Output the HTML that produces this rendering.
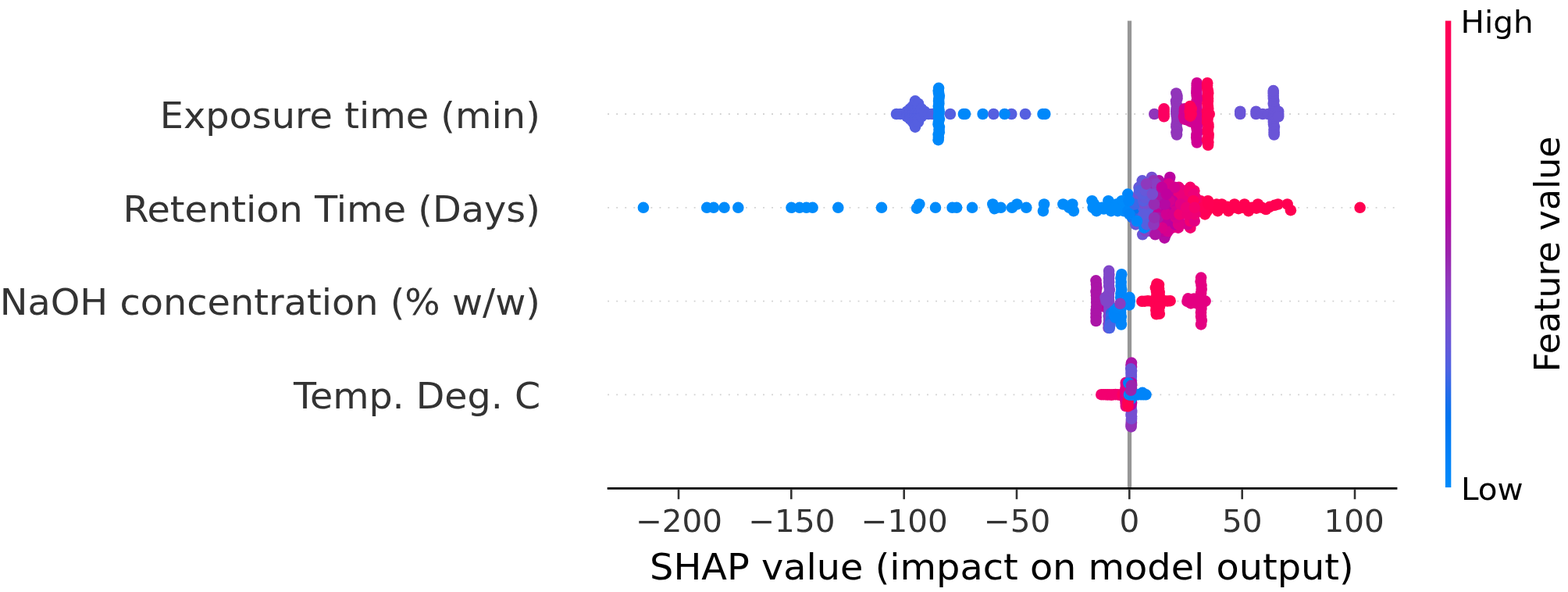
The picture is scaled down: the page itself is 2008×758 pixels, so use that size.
<!DOCTYPE html>
<html lang="en"><head><meta charset="utf-8"><title>SHAP summary plot</title>
<style>html,body{margin:0;padding:0;background:#fff}body{width:2008px;height:758px;overflow:hidden}svg{display:block}</style>
</head><body>
<svg width="2008" height="758" viewBox="0 0 2008 758">
<defs><linearGradient id="cb" x1="0" y1="1" x2="0" y2="0">
<stop offset="0.00" stop-color="#008bfb"/>
<stop offset="0.05" stop-color="#0084f9"/>
<stop offset="0.10" stop-color="#007cf5"/>
<stop offset="0.15" stop-color="#0074f0"/>
<stop offset="0.20" stop-color="#236cea"/>
<stop offset="0.25" stop-color="#4b63e3"/>
<stop offset="0.30" stop-color="#6359da"/>
<stop offset="0.35" stop-color="#754fd1"/>
<stop offset="0.40" stop-color="#8443c6"/>
<stop offset="0.45" stop-color="#9135ba"/>
<stop offset="0.50" stop-color="#9b23ad"/>
<stop offset="0.55" stop-color="#ab15a7"/>
<stop offset="0.60" stop-color="#bb00a0"/>
<stop offset="0.65" stop-color="#c80098"/>
<stop offset="0.70" stop-color="#d5008f"/>
<stop offset="0.75" stop-color="#e00086"/>
<stop offset="0.80" stop-color="#e9007c"/>
<stop offset="0.85" stop-color="#f20072"/>
<stop offset="0.90" stop-color="#f90067"/>
<stop offset="0.95" stop-color="#fe005c"/>
<stop offset="1.00" stop-color="#ff0051"/>
</linearGradient></defs>
<rect width="2008" height="758" fill="#fff"/>
<rect x="1443.9" y="26.6" width="5.2" height="598.8" fill="#979797"/>
<line x1="778.2" y1="146.0" x2="1789" y2="146.0" stroke="#d2d2d2" stroke-width="1.85" stroke-dasharray="1.85 9.2"/>
<line x1="778.2" y1="265.8" x2="1789" y2="265.8" stroke="#d2d2d2" stroke-width="1.85" stroke-dasharray="1.85 9.2"/>
<line x1="778.2" y1="385.6" x2="1789" y2="385.6" stroke="#d2d2d2" stroke-width="1.85" stroke-dasharray="1.85 9.2"/>
<line x1="778.2" y1="505.4" x2="1789" y2="505.4" stroke="#d2d2d2" stroke-width="1.85" stroke-dasharray="1.85 9.2"/>
<g>
<circle cx="1148.0" cy="146.0" r="7.3" fill="#555fe0"/>
<circle cx="1153.0" cy="146.0" r="7.3" fill="#555fe0"/>
<circle cx="1158.0" cy="146.0" r="7.3" fill="#555fe0"/>
<circle cx="1161.5" cy="146.0" r="7.3" fill="#555fe0"/>
<circle cx="1161.5" cy="142.7" r="7.3" fill="#555fe0"/>
<circle cx="1161.5" cy="149.3" r="7.3" fill="#555fe0"/>
<circle cx="1165.5" cy="146.0" r="7.3" fill="#555fe0"/>
<circle cx="1165.5" cy="142.7" r="7.3" fill="#555fe0"/>
<circle cx="1165.5" cy="149.3" r="7.3" fill="#555fe0"/>
<circle cx="1165.5" cy="139.4" r="7.3" fill="#555fe0"/>
<circle cx="1165.5" cy="152.6" r="7.3" fill="#555fe0"/>
<circle cx="1169.0" cy="146.0" r="7.3" fill="#555fe0"/>
<circle cx="1169.0" cy="142.7" r="7.3" fill="#555fe0"/>
<circle cx="1169.0" cy="149.3" r="7.3" fill="#555fe0"/>
<circle cx="1169.0" cy="139.4" r="7.3" fill="#555fe0"/>
<circle cx="1169.0" cy="152.6" r="7.3" fill="#555fe0"/>
<circle cx="1169.0" cy="136.0" r="7.3" fill="#555fe0"/>
<circle cx="1169.0" cy="156.0" r="7.3" fill="#555fe0"/>
<circle cx="1172.0" cy="146.0" r="7.3" fill="#555fe0"/>
<circle cx="1172.0" cy="142.7" r="7.3" fill="#555fe0"/>
<circle cx="1172.0" cy="149.3" r="7.3" fill="#555fe0"/>
<circle cx="1172.0" cy="139.4" r="7.3" fill="#555fe0"/>
<circle cx="1172.0" cy="152.6" r="7.3" fill="#555fe0"/>
<circle cx="1172.0" cy="136.0" r="7.3" fill="#555fe0"/>
<circle cx="1172.0" cy="156.0" r="7.3" fill="#555fe0"/>
<circle cx="1172.0" cy="132.7" r="7.3" fill="#555fe0"/>
<circle cx="1172.0" cy="159.3" r="7.3" fill="#555fe0"/>
<circle cx="1172.0" cy="129.4" r="7.3" fill="#555fe0"/>
<circle cx="1172.0" cy="162.6" r="7.3" fill="#555fe0"/>
<circle cx="1176.0" cy="146.0" r="7.3" fill="#555fe0"/>
<circle cx="1176.0" cy="142.7" r="7.3" fill="#555fe0"/>
<circle cx="1176.0" cy="149.3" r="7.3" fill="#555fe0"/>
<circle cx="1176.0" cy="139.4" r="7.3" fill="#555fe0"/>
<circle cx="1176.0" cy="152.6" r="7.3" fill="#555fe0"/>
<circle cx="1176.0" cy="136.0" r="7.3" fill="#555fe0"/>
<circle cx="1176.0" cy="156.0" r="7.3" fill="#555fe0"/>
<circle cx="1176.0" cy="132.7" r="7.3" fill="#555fe0"/>
<circle cx="1180.0" cy="146.0" r="7.3" fill="#555fe0"/>
<circle cx="1180.0" cy="142.7" r="7.3" fill="#555fe0"/>
<circle cx="1180.0" cy="149.3" r="7.3" fill="#555fe0"/>
<circle cx="1180.0" cy="139.4" r="7.3" fill="#555fe0"/>
<circle cx="1184.0" cy="146.0" r="7.3" fill="#555fe0"/>
<circle cx="1184.0" cy="142.7" r="7.3" fill="#555fe0"/>
<circle cx="1189.0" cy="146.0" r="7.3" fill="#555fe0"/>
<circle cx="1194.0" cy="146.0" r="7.3" fill="#555fe0"/>
<circle cx="1202.4" cy="146.0" r="7.3" fill="#0088fa"/>
<circle cx="1202.7" cy="142.7" r="7.3" fill="#0088fa"/>
<circle cx="1202.0" cy="149.3" r="7.3" fill="#0088fa"/>
<circle cx="1202.1" cy="139.4" r="7.3" fill="#0088fa"/>
<circle cx="1202.9" cy="152.6" r="7.3" fill="#0088fa"/>
<circle cx="1201.8" cy="136.0" r="7.3" fill="#0088fa"/>
<circle cx="1201.9" cy="156.0" r="7.3" fill="#0088fa"/>
<circle cx="1202.4" cy="132.7" r="7.3" fill="#0088fa"/>
<circle cx="1201.6" cy="159.3" r="7.3" fill="#0088fa"/>
<circle cx="1202.1" cy="129.4" r="7.3" fill="#0088fa"/>
<circle cx="1202.9" cy="162.6" r="7.3" fill="#0088fa"/>
<circle cx="1202.3" cy="126.1" r="7.3" fill="#0088fa"/>
<circle cx="1202.5" cy="165.9" r="7.3" fill="#0088fa"/>
<circle cx="1202.9" cy="122.8" r="7.3" fill="#0088fa"/>
<circle cx="1202.8" cy="169.2" r="7.3" fill="#0088fa"/>
<circle cx="1202.1" cy="119.5" r="7.3" fill="#0088fa"/>
<circle cx="1201.7" cy="172.5" r="7.3" fill="#0088fa"/>
<circle cx="1201.7" cy="116.1" r="7.3" fill="#0088fa"/>
<circle cx="1201.9" cy="175.9" r="7.3" fill="#0088fa"/>
<circle cx="1202.1" cy="112.8" r="7.3" fill="#0088fa"/>
<circle cx="1201.6" cy="179.2" r="7.3" fill="#0088fa"/>
<circle cx="1216.9" cy="146.0" r="7.3" fill="#555fe0"/>
<circle cx="1233.9" cy="146.0" r="7.3" fill="#0088fa"/>
<circle cx="1236.0" cy="146.0" r="7.3" fill="#0088fa"/>
<circle cx="1258.6" cy="146.0" r="7.3" fill="#0088fa"/>
<circle cx="1272.4" cy="146.0" r="7.3" fill="#555fe0"/>
<circle cx="1295.3" cy="146.0" r="7.3" fill="#555fe0"/>
<circle cx="1286.5" cy="146.0" r="7.3" fill="#0088fa"/>
<circle cx="1313.0" cy="146.0" r="7.3" fill="#555fe0"/>
<circle cx="1335.5" cy="146.0" r="7.3" fill="#0088fa"/>
<circle cx="1338.3" cy="146.0" r="7.3" fill="#0088fa"/>
<circle cx="1478.3" cy="146.0" r="7.3" fill="#9135ba"/>
<circle cx="1490.6" cy="146.0" r="7.3" fill="#fc0061"/>
<circle cx="1490.6" cy="142.7" r="7.3" fill="#fc0061"/>
<circle cx="1490.6" cy="149.3" r="7.3" fill="#fc0061"/>
<circle cx="1490.6" cy="139.4" r="7.3" fill="#fc0061"/>
<circle cx="1506.4" cy="146.0" r="7.3" fill="#9135ba"/>
<circle cx="1506.3" cy="142.7" r="7.3" fill="#9135ba"/>
<circle cx="1506.9" cy="149.3" r="7.3" fill="#9135ba"/>
<circle cx="1506.5" cy="139.4" r="7.3" fill="#9135ba"/>
<circle cx="1507.3" cy="152.6" r="7.3" fill="#9135ba"/>
<circle cx="1507.4" cy="136.0" r="7.3" fill="#9135ba"/>
<circle cx="1507.3" cy="156.0" r="7.3" fill="#9135ba"/>
<circle cx="1506.4" cy="132.7" r="7.3" fill="#9135ba"/>
<circle cx="1506.6" cy="159.3" r="7.3" fill="#9135ba"/>
<circle cx="1506.0" cy="129.4" r="7.3" fill="#9135ba"/>
<circle cx="1506.4" cy="162.6" r="7.3" fill="#9135ba"/>
<circle cx="1507.5" cy="126.1" r="7.3" fill="#9135ba"/>
<circle cx="1507.5" cy="165.9" r="7.3" fill="#9135ba"/>
<circle cx="1507.5" cy="122.8" r="7.3" fill="#9135ba"/>
<circle cx="1506.4" cy="169.2" r="7.3" fill="#9135ba"/>
<circle cx="1506.3" cy="119.5" r="7.3" fill="#9135ba"/>
<circle cx="1507.0" cy="172.5" r="7.3" fill="#9135ba"/>
<circle cx="1516.9" cy="146.0" r="7.3" fill="#d00093"/>
<circle cx="1516.7" cy="142.7" r="7.3" fill="#d00093"/>
<circle cx="1516.0" cy="149.3" r="7.3" fill="#d00093"/>
<circle cx="1517.0" cy="139.4" r="7.3" fill="#d00093"/>
<circle cx="1516.8" cy="152.6" r="7.3" fill="#d00093"/>
<circle cx="1532.3" cy="146.0" r="7.3" fill="#d00093"/>
<circle cx="1532.5" cy="142.7" r="7.3" fill="#d00093"/>
<circle cx="1533.6" cy="149.3" r="7.3" fill="#d00093"/>
<circle cx="1532.6" cy="139.4" r="7.3" fill="#d00093"/>
<circle cx="1533.2" cy="152.6" r="7.3" fill="#d00093"/>
<circle cx="1532.2" cy="136.0" r="7.3" fill="#d00093"/>
<circle cx="1533.4" cy="156.0" r="7.3" fill="#d00093"/>
<circle cx="1532.2" cy="132.7" r="7.3" fill="#d00093"/>
<circle cx="1533.6" cy="159.3" r="7.3" fill="#d00093"/>
<circle cx="1532.6" cy="129.4" r="7.3" fill="#d00093"/>
<circle cx="1532.2" cy="162.6" r="7.3" fill="#d00093"/>
<circle cx="1533.6" cy="126.1" r="7.3" fill="#d00093"/>
<circle cx="1532.8" cy="165.9" r="7.3" fill="#d00093"/>
<circle cx="1532.7" cy="122.8" r="7.3" fill="#d00093"/>
<circle cx="1533.3" cy="169.2" r="7.3" fill="#d00093"/>
<circle cx="1532.4" cy="119.5" r="7.3" fill="#d00093"/>
<circle cx="1532.4" cy="172.5" r="7.3" fill="#d00093"/>
<circle cx="1532.4" cy="116.1" r="7.3" fill="#d00093"/>
<circle cx="1532.2" cy="175.9" r="7.3" fill="#d00093"/>
<circle cx="1532.6" cy="112.8" r="7.3" fill="#d00093"/>
<circle cx="1532.9" cy="179.2" r="7.3" fill="#d00093"/>
<circle cx="1532.7" cy="109.5" r="7.3" fill="#d00093"/>
<circle cx="1532.8" cy="182.5" r="7.3" fill="#d00093"/>
<circle cx="1532.8" cy="106.2" r="7.3" fill="#d00093"/>
<circle cx="1520.5" cy="153.6" r="7.3" fill="#d00093"/>
<circle cx="1524.5" cy="155.6" r="7.3" fill="#d00093"/>
<circle cx="1546.7" cy="146.0" r="7.3" fill="#ff0058"/>
<circle cx="1545.9" cy="142.7" r="7.3" fill="#ff0058"/>
<circle cx="1546.2" cy="149.3" r="7.3" fill="#ff0058"/>
<circle cx="1547.2" cy="139.4" r="7.3" fill="#ff0058"/>
<circle cx="1546.5" cy="152.6" r="7.3" fill="#ff0058"/>
<circle cx="1546.9" cy="136.0" r="7.3" fill="#ff0058"/>
<circle cx="1546.1" cy="156.0" r="7.3" fill="#ff0058"/>
<circle cx="1546.3" cy="132.7" r="7.3" fill="#ff0058"/>
<circle cx="1547.3" cy="159.3" r="7.3" fill="#ff0058"/>
<circle cx="1546.9" cy="129.4" r="7.3" fill="#ff0058"/>
<circle cx="1547.5" cy="162.6" r="7.3" fill="#ff0058"/>
<circle cx="1547.0" cy="126.1" r="7.3" fill="#ff0058"/>
<circle cx="1546.8" cy="165.9" r="7.3" fill="#ff0058"/>
<circle cx="1546.7" cy="122.8" r="7.3" fill="#ff0058"/>
<circle cx="1546.8" cy="169.2" r="7.3" fill="#ff0058"/>
<circle cx="1547.2" cy="119.5" r="7.3" fill="#ff0058"/>
<circle cx="1547.6" cy="172.5" r="7.3" fill="#ff0058"/>
<circle cx="1546.9" cy="116.1" r="7.3" fill="#ff0058"/>
<circle cx="1547.4" cy="175.9" r="7.3" fill="#ff0058"/>
<circle cx="1546.1" cy="112.8" r="7.3" fill="#ff0058"/>
<circle cx="1546.0" cy="179.2" r="7.3" fill="#ff0058"/>
<circle cx="1546.0" cy="109.5" r="7.3" fill="#ff0058"/>
<circle cx="1547.3" cy="182.5" r="7.3" fill="#ff0058"/>
<circle cx="1546.2" cy="106.2" r="7.3" fill="#ff0058"/>
<circle cx="1547.1" cy="185.8" r="7.3" fill="#ff0058"/>
<circle cx="1548.7" cy="146.0" r="7.3" fill="#ff0058"/>
<circle cx="1524.0" cy="136.0" r="7.3" fill="#ff005a"/>
<circle cx="1525.8" cy="139.4" r="7.3" fill="#ff005a"/>
<circle cx="1523.6" cy="142.7" r="7.3" fill="#ff005a"/>
<circle cx="1525.6" cy="146.0" r="7.3" fill="#ff005a"/>
<circle cx="1524.2" cy="148.7" r="7.3" fill="#ff005a"/>
<circle cx="1588.2" cy="146.0" r="7.3" fill="#6a55d7"/>
<circle cx="1588.2" cy="142.7" r="7.3" fill="#6a55d7"/>
<circle cx="1608.5" cy="146.0" r="7.3" fill="#6a55d7"/>
<circle cx="1608.5" cy="142.7" r="7.3" fill="#6a55d7"/>
<circle cx="1617.0" cy="146.0" r="7.3" fill="#6a55d7"/>
<circle cx="1624.0" cy="146.0" r="7.3" fill="#6a55d7"/>
<circle cx="1631.8" cy="146.0" r="7.3" fill="#6a55d7"/>
<circle cx="1631.5" cy="142.7" r="7.3" fill="#6a55d7"/>
<circle cx="1630.6" cy="149.3" r="7.3" fill="#6a55d7"/>
<circle cx="1631.6" cy="139.4" r="7.3" fill="#6a55d7"/>
<circle cx="1630.7" cy="152.6" r="7.3" fill="#6a55d7"/>
<circle cx="1631.9" cy="136.0" r="7.3" fill="#6a55d7"/>
<circle cx="1630.8" cy="156.0" r="7.3" fill="#6a55d7"/>
<circle cx="1630.7" cy="132.7" r="7.3" fill="#6a55d7"/>
<circle cx="1631.0" cy="159.3" r="7.3" fill="#6a55d7"/>
<circle cx="1631.3" cy="129.4" r="7.3" fill="#6a55d7"/>
<circle cx="1631.9" cy="162.6" r="7.3" fill="#6a55d7"/>
<circle cx="1630.8" cy="126.1" r="7.3" fill="#6a55d7"/>
<circle cx="1631.5" cy="165.9" r="7.3" fill="#6a55d7"/>
<circle cx="1630.7" cy="122.8" r="7.3" fill="#6a55d7"/>
<circle cx="1631.7" cy="169.2" r="7.3" fill="#6a55d7"/>
<circle cx="1630.7" cy="119.5" r="7.3" fill="#6a55d7"/>
<circle cx="1631.6" cy="172.5" r="7.3" fill="#6a55d7"/>
<circle cx="1630.7" cy="116.1" r="7.3" fill="#6a55d7"/>
<circle cx="1637.2" cy="146.0" r="7.3" fill="#6a55d7"/>
<circle cx="1637.2" cy="142.7" r="7.3" fill="#6a55d7"/>
<circle cx="1637.2" cy="149.3" r="7.3" fill="#6a55d7"/>
</g>
<g>
<circle cx="1485.2" cy="252.9" r="7.3" fill="#b901a1"/>
<circle cx="1475.5" cy="239.9" r="7.3" fill="#6e53d5"/>
<circle cx="1482.9" cy="283.0" r="7.3" fill="#972bb2"/>
<circle cx="1492.9" cy="300.3" r="7.3" fill="#ca0096"/>
<circle cx="1652.9" cy="269.2" r="7.3" fill="#ff0051"/>
<circle cx="1525.2" cy="278.7" r="7.3" fill="#f80068"/>
<circle cx="1509.1" cy="265.8" r="7.3" fill="#e60080"/>
<circle cx="1524.2" cy="239.9" r="7.3" fill="#f70069"/>
<circle cx="1477.0" cy="257.2" r="7.3" fill="#883ec2"/>
<circle cx="1537.5" cy="257.2" r="7.3" fill="#ff005a"/>
<circle cx="1519.5" cy="252.9" r="7.3" fill="#f00073"/>
<circle cx="1314.3" cy="265.8" r="7.3" fill="#008bfb"/>
<circle cx="1492.5" cy="287.4" r="7.3" fill="#c4009a"/>
<circle cx="1491.3" cy="304.6" r="7.3" fill="#b409a3"/>
<circle cx="1621.2" cy="268.0" r="7.3" fill="#ff0051"/>
<circle cx="1488.5" cy="296.0" r="7.3" fill="#be009d"/>
<circle cx="1444.7" cy="265.8" r="7.3" fill="#0086f9"/>
<circle cx="1506.6" cy="283.0" r="7.3" fill="#c3009b"/>
<circle cx="1431.4" cy="270.1" r="7.3" fill="#008bfb"/>
<circle cx="1501.2" cy="291.7" r="7.3" fill="#e30083"/>
<circle cx="1481.5" cy="287.4" r="7.3" fill="#a61ba9"/>
<circle cx="1417.0" cy="265.8" r="7.3" fill="#008bfb"/>
<circle cx="1177.3" cy="261.5" r="7.3" fill="#008bfb"/>
<circle cx="1514.1" cy="270.1" r="7.3" fill="#ed0077"/>
<circle cx="1469.4" cy="239.9" r="7.3" fill="#4a63e3"/>
<circle cx="1572.0" cy="264.9" r="7.3" fill="#ff0051"/>
<circle cx="1484.2" cy="231.3" r="7.3" fill="#b10ea4"/>
<circle cx="1506.7" cy="252.9" r="7.3" fill="#e00085"/>
<circle cx="1486.1" cy="265.8" r="7.3" fill="#c0009d"/>
<circle cx="1512.6" cy="252.9" r="7.3" fill="#e10085"/>
<circle cx="1462.5" cy="283.0" r="7.3" fill="#6b55d7"/>
<circle cx="1478.2" cy="265.8" r="7.3" fill="#9b23ad"/>
<circle cx="1535.9" cy="261.5" r="7.3" fill="#fe005d"/>
<circle cx="1598.9" cy="270.1" r="7.3" fill="#ff0051"/>
<circle cx="1073.3" cy="265.8" r="7.3" fill="#008bfb"/>
<circle cx="1545.8" cy="270.1" r="7.3" fill="#ff0054"/>
<circle cx="1493.4" cy="244.2" r="7.3" fill="#bc009f"/>
<circle cx="1481.8" cy="257.2" r="7.3" fill="#a31daa"/>
<circle cx="1530.5" cy="261.5" r="7.3" fill="#eb0079"/>
<circle cx="1462.8" cy="231.3" r="7.3" fill="#6558d9"/>
<circle cx="1404.2" cy="270.1" r="7.3" fill="#008bfb"/>
<circle cx="1508.8" cy="291.7" r="7.3" fill="#e30083"/>
<circle cx="1433.3" cy="264.9" r="7.3" fill="#008bfb"/>
<circle cx="1530.9" cy="252.9" r="7.3" fill="#f6006b"/>
<circle cx="1436.9" cy="265.8" r="7.3" fill="#008bfb"/>
<circle cx="1435.7" cy="261.5" r="7.3" fill="#008bfb"/>
<circle cx="1481.2" cy="270.1" r="7.3" fill="#9430b6"/>
<circle cx="1509.4" cy="278.7" r="7.3" fill="#e30082"/>
<circle cx="1741.6" cy="265.8" r="7.3" fill="#ff0051"/>
<circle cx="1524.4" cy="291.7" r="7.3" fill="#f4006f"/>
<circle cx="1444.3" cy="248.6" r="7.3" fill="#0086fa"/>
<circle cx="1566.0" cy="265.8" r="7.3" fill="#ff0051"/>
<circle cx="1446.3" cy="252.9" r="7.3" fill="#0084f9"/>
<circle cx="1610.9" cy="261.5" r="7.3" fill="#ff0051"/>
<circle cx="1592.0" cy="265.8" r="7.3" fill="#ff0051"/>
<circle cx="1419.4" cy="257.2" r="7.3" fill="#008bfb"/>
<circle cx="1281.7" cy="265.8" r="7.3" fill="#008bfb"/>
<circle cx="1520.5" cy="287.4" r="7.3" fill="#d8008c"/>
<circle cx="1413.5" cy="267.5" r="7.3" fill="#008bfb"/>
<circle cx="1526.4" cy="270.1" r="7.3" fill="#f5006d"/>
<circle cx="1529.4" cy="244.2" r="7.3" fill="#f6006c"/>
<circle cx="1475.0" cy="227.0" r="7.3" fill="#744fd1"/>
<circle cx="1245.0" cy="265.8" r="7.3" fill="#008bfb"/>
<circle cx="1616.0" cy="265.8" r="7.3" fill="#ff0051"/>
<circle cx="1497.0" cy="252.9" r="7.3" fill="#c1009c"/>
<circle cx="1445.2" cy="261.5" r="7.3" fill="#0085f9"/>
<circle cx="1471.9" cy="291.7" r="7.3" fill="#6857d8"/>
<circle cx="1457.5" cy="270.1" r="7.3" fill="#555fe0"/>
<circle cx="1478.7" cy="270.1" r="7.3" fill="#8541c5"/>
<circle cx="1473.5" cy="296.0" r="7.3" fill="#7f47ca"/>
<circle cx="1436.6" cy="257.2" r="7.3" fill="#008bfb"/>
<circle cx="1421.0" cy="261.5" r="7.3" fill="#008bfb"/>
<circle cx="1527.1" cy="278.7" r="7.3" fill="#f7006a"/>
<circle cx="1564.6" cy="261.5" r="7.3" fill="#ff0051"/>
<circle cx="1495.9" cy="291.7" r="7.3" fill="#c1009c"/>
<circle cx="1495.6" cy="296.0" r="7.3" fill="#d5008f"/>
<circle cx="1401.0" cy="261.5" r="7.3" fill="#008bfb"/>
<circle cx="1522.4" cy="248.6" r="7.3" fill="#f6006b"/>
<circle cx="1439.0" cy="270.1" r="7.3" fill="#008bfb"/>
<circle cx="1519.3" cy="244.2" r="7.3" fill="#f4006f"/>
<circle cx="927.5" cy="265.8" r="7.3" fill="#008bfb"/>
<circle cx="1486.8" cy="261.5" r="7.3" fill="#a51ca9"/>
<circle cx="1457.2" cy="252.9" r="7.3" fill="#4a63e3"/>
<circle cx="1454.5" cy="265.8" r="7.3" fill="#3968e7"/>
<circle cx="1501.2" cy="265.8" r="7.3" fill="#d00093"/>
<circle cx="1515.5" cy="244.2" r="7.3" fill="#f20071"/>
<circle cx="1463.2" cy="300.3" r="7.3" fill="#6b55d6"/>
<circle cx="1497.1" cy="278.7" r="7.3" fill="#ba00a0"/>
<circle cx="1626.0" cy="264.9" r="7.3" fill="#ff0051"/>
<circle cx="1429.7" cy="261.5" r="7.3" fill="#008bfb"/>
<circle cx="1573.2" cy="270.1" r="7.3" fill="#ff0051"/>
<circle cx="1174.1" cy="266.7" r="7.3" fill="#008bfb"/>
<circle cx="1470.1" cy="270.1" r="7.3" fill="#7f47ca"/>
<circle cx="1506.4" cy="248.6" r="7.3" fill="#c5009a"/>
<circle cx="1456.6" cy="274.4" r="7.3" fill="#0075f1"/>
<circle cx="1493.8" cy="283.0" r="7.3" fill="#bf009d"/>
<circle cx="1373.3" cy="261.5" r="7.3" fill="#008bfb"/>
<circle cx="1484.8" cy="244.2" r="7.3" fill="#a11eab"/>
<circle cx="1559.5" cy="270.1" r="7.3" fill="#ff0051"/>
<circle cx="1504.9" cy="287.4" r="7.3" fill="#ba00a0"/>
<circle cx="1464.2" cy="265.8" r="7.3" fill="#565fdf"/>
<circle cx="1453.9" cy="257.2" r="7.3" fill="#595ede"/>
<circle cx="1497.5" cy="265.8" r="7.3" fill="#cd0094"/>
<circle cx="1444.3" cy="270.1" r="7.3" fill="#0086fa"/>
<circle cx="1129.0" cy="265.8" r="7.3" fill="#008bfb"/>
<circle cx="1586.0" cy="267.1" r="7.3" fill="#ff0051"/>
<circle cx="1427.5" cy="265.8" r="7.3" fill="#008bfb"/>
<circle cx="1501.2" cy="270.1" r="7.3" fill="#d30090"/>
<circle cx="1523.4" cy="270.1" r="7.3" fill="#ea007c"/>
<circle cx="1509.9" cy="283.0" r="7.3" fill="#da008a"/>
<circle cx="1499.3" cy="244.2" r="7.3" fill="#c1009c"/>
<circle cx="1411.0" cy="265.8" r="7.3" fill="#008bfb"/>
<circle cx="1458.2" cy="248.6" r="7.3" fill="#6f53d4"/>
<circle cx="1648.6" cy="261.5" r="7.3" fill="#ff0051"/>
<circle cx="1477.3" cy="231.3" r="7.3" fill="#9332b7"/>
<circle cx="1450.1" cy="278.7" r="7.3" fill="#246cea"/>
<circle cx="945.3" cy="265.8" r="7.3" fill="#008bfb"/>
<circle cx="1579.0" cy="265.8" r="7.3" fill="#ff0051"/>
<circle cx="1486.1" cy="248.6" r="7.3" fill="#ac14a6"/>
<circle cx="1524.5" cy="261.5" r="7.3" fill="#fa0064"/>
<circle cx="1509.7" cy="239.9" r="7.3" fill="#e8007d"/>
<circle cx="1477.4" cy="235.6" r="7.3" fill="#8e38bd"/>
<circle cx="1337.1" cy="261.5" r="7.3" fill="#008bfb"/>
<circle cx="1335.9" cy="270.1" r="7.3" fill="#008bfb"/>
<circle cx="1453.1" cy="261.5" r="7.3" fill="#3d67e6"/>
<circle cx="1302.4" cy="261.5" r="7.3" fill="#008bfb"/>
<circle cx="1521.5" cy="257.2" r="7.3" fill="#f4006f"/>
<circle cx="1543.1" cy="274.4" r="7.3" fill="#ff0056"/>
<circle cx="1632.3" cy="262.8" r="7.3" fill="#ff0051"/>
<circle cx="1558.0" cy="261.5" r="7.3" fill="#ff0051"/>
<circle cx="1492.3" cy="239.9" r="7.3" fill="#bd009e"/>
<circle cx="1422.9" cy="270.1" r="7.3" fill="#008bfb"/>
<circle cx="1509.2" cy="287.4" r="7.3" fill="#df0086"/>
<circle cx="1225.1" cy="265.8" r="7.3" fill="#008bfb"/>
<circle cx="1516.1" cy="257.2" r="7.3" fill="#e9007c"/>
<circle cx="1509.8" cy="248.6" r="7.3" fill="#ea007b"/>
<circle cx="1445.5" cy="257.2" r="7.3" fill="#0085f9"/>
<circle cx="1023.9" cy="265.8" r="7.3" fill="#008bfb"/>
<circle cx="1465.8" cy="261.5" r="7.3" fill="#754fd1"/>
<circle cx="1198.0" cy="265.8" r="7.3" fill="#008bfb"/>
<circle cx="1488.2" cy="291.7" r="7.3" fill="#d9008b"/>
<circle cx="1446.4" cy="274.4" r="7.3" fill="#0084f9"/>
<circle cx="1399.6" cy="265.8" r="7.3" fill="#008bfb"/>
<circle cx="1494.0" cy="270.1" r="7.3" fill="#bb009f"/>
<circle cx="1505.7" cy="261.5" r="7.3" fill="#d4008f"/>
<circle cx="1593.7" cy="261.5" r="7.3" fill="#ff0051"/>
<circle cx="1461.1" cy="278.7" r="7.3" fill="#3669e8"/>
<circle cx="1524.3" cy="283.0" r="7.3" fill="#f30070"/>
<circle cx="1374.9" cy="270.1" r="7.3" fill="#008bfb"/>
<circle cx="1472.5" cy="252.9" r="7.3" fill="#6c54d6"/>
<circle cx="1467.5" cy="296.0" r="7.3" fill="#8344c6"/>
<circle cx="1464.2" cy="257.2" r="7.3" fill="#585edf"/>
<circle cx="1497.1" cy="231.3" r="7.3" fill="#c0009c"/>
<circle cx="1463.8" cy="278.7" r="7.3" fill="#5a5dde"/>
<circle cx="1398.5" cy="257.2" r="7.3" fill="#008bfb"/>
<circle cx="1475.4" cy="244.2" r="7.3" fill="#9828b0"/>
<circle cx="1454.4" cy="287.4" r="7.3" fill="#6757d8"/>
<circle cx="1528.8" cy="248.6" r="7.3" fill="#ed0078"/>
<circle cx="1458.5" cy="239.9" r="7.3" fill="#6459da"/>
<circle cx="1271.3" cy="261.5" r="7.3" fill="#008bfb"/>
<circle cx="1506.1" cy="278.7" r="7.3" fill="#da008a"/>
<circle cx="1471.6" cy="274.4" r="7.3" fill="#605bdb"/>
<circle cx="905.2" cy="265.8" r="7.3" fill="#008bfb"/>
<circle cx="1459.1" cy="244.2" r="7.3" fill="#5460e0"/>
<circle cx="1480.7" cy="235.6" r="7.3" fill="#883fc2"/>
<circle cx="1483.0" cy="274.4" r="7.3" fill="#c4009a"/>
<circle cx="1550.1" cy="265.8" r="7.3" fill="#ff0051"/>
<circle cx="1479.4" cy="300.3" r="7.3" fill="#ad13a6"/>
<circle cx="1040.6" cy="265.8" r="7.3" fill="#008bfb"/>
<circle cx="1501.1" cy="257.2" r="7.3" fill="#c60099"/>
<circle cx="1542.0" cy="270.1" r="7.3" fill="#ff0057"/>
<circle cx="1482.8" cy="278.7" r="7.3" fill="#aa16a7"/>
<circle cx="1493.9" cy="274.4" r="7.3" fill="#d10092"/>
<circle cx="1529.7" cy="283.0" r="7.3" fill="#e30083"/>
<circle cx="1466.1" cy="252.9" r="7.3" fill="#6259da"/>
<circle cx="1465.4" cy="291.7" r="7.3" fill="#0086fa"/>
<circle cx="1296.0" cy="265.8" r="7.3" fill="#008bfb"/>
<circle cx="1497.5" cy="257.2" r="7.3" fill="#d4008f"/>
<circle cx="1636.6" cy="261.5" r="7.3" fill="#ff0051"/>
<circle cx="1540.1" cy="265.8" r="7.3" fill="#ff0058"/>
<circle cx="1503.1" cy="274.4" r="7.3" fill="#d10091"/>
<circle cx="1603.0" cy="265.8" r="7.3" fill="#ff0051"/>
<circle cx="1013.5" cy="265.8" r="7.3" fill="#008bfb"/>
<circle cx="1219.5" cy="265.8" r="7.3" fill="#008bfb"/>
<circle cx="1476.9" cy="283.0" r="7.3" fill="#7e48cb"/>
<circle cx="1530.3" cy="274.4" r="7.3" fill="#ef0075"/>
<circle cx="1546.9" cy="257.2" r="7.3" fill="#ff0053"/>
<circle cx="1491.5" cy="261.5" r="7.3" fill="#b508a3"/>
<circle cx="1032.7" cy="265.8" r="7.3" fill="#008bfb"/>
<circle cx="1468.3" cy="287.4" r="7.3" fill="#5360e0"/>
<circle cx="1510.5" cy="274.4" r="7.3" fill="#f00074"/>
<circle cx="1462.9" cy="248.6" r="7.3" fill="#5a5dde"/>
<circle cx="1609.0" cy="266.7" r="7.3" fill="#ff0051"/>
<circle cx="1498.2" cy="227.0" r="7.3" fill="#ba00a0"/>
<circle cx="1467.0" cy="244.2" r="7.3" fill="#6658d9"/>
<circle cx="1528.2" cy="257.2" r="7.3" fill="#fe005c"/>
<circle cx="1477.5" cy="287.4" r="7.3" fill="#8f37bc"/>
<circle cx="1478.0" cy="261.5" r="7.3" fill="#972bb2"/>
<circle cx="1496.6" cy="235.6" r="7.3" fill="#d8008d"/>
<circle cx="1475.9" cy="248.6" r="7.3" fill="#784cce"/>
<circle cx="1511.9" cy="261.5" r="7.3" fill="#e00086"/>
<circle cx="913.9" cy="265.8" r="7.3" fill="#008bfb"/>
<circle cx="823.9" cy="265.8" r="7.3" fill="#008bfb"/>
<circle cx="1520.3" cy="274.4" r="7.3" fill="#ed0077"/>
<circle cx="1580.9" cy="261.5" r="7.3" fill="#ff0051"/>
<circle cx="1464.7" cy="274.4" r="7.3" fill="#5e5cdc"/>
<circle cx="1468.1" cy="235.6" r="7.3" fill="#8e39bd"/>
<circle cx="1487.9" cy="239.9" r="7.3" fill="#c3009b"/>
<circle cx="1455.9" cy="283.0" r="7.3" fill="#0086fa"/>
<circle cx="1519.2" cy="265.8" r="7.3" fill="#ed0078"/>
<circle cx="1504.2" cy="239.9" r="7.3" fill="#d5008f"/>
<circle cx="1478.2" cy="278.7" r="7.3" fill="#952eb4"/>
<circle cx="1273.7" cy="267.1" r="7.3" fill="#008bfb"/>
<circle cx="1361.4" cy="261.5" r="7.3" fill="#008bfb"/>
<circle cx="1369.3" cy="265.8" r="7.3" fill="#008bfb"/>
<circle cx="1556.0" cy="265.8" r="7.3" fill="#ff0051"/>
<circle cx="1547.3" cy="261.5" r="7.3" fill="#ff0053"/>
<circle cx="1493.7" cy="248.6" r="7.3" fill="#c0009d"/>
<circle cx="1529.7" cy="265.8" r="7.3" fill="#f5006c"/>
</g>
<g>
<circle cx="1415.2" cy="393.0" r="7.3" fill="#bb00a0"/>
<circle cx="1403.5" cy="359.3" r="7.3" fill="#ab15a7"/>
<circle cx="1403.9" cy="364.0" r="7.3" fill="#ab15a7"/>
<circle cx="1404.4" cy="368.7" r="7.3" fill="#ab15a7"/>
<circle cx="1403.6" cy="373.4" r="7.3" fill="#ab15a7"/>
<circle cx="1403.9" cy="378.1" r="7.3" fill="#ab15a7"/>
<circle cx="1404.2" cy="382.8" r="7.3" fill="#ab15a7"/>
<circle cx="1404.2" cy="387.5" r="7.3" fill="#ab15a7"/>
<circle cx="1404.2" cy="392.2" r="7.3" fill="#ab15a7"/>
<circle cx="1403.7" cy="396.9" r="7.3" fill="#ab15a7"/>
<circle cx="1403.6" cy="401.6" r="7.3" fill="#ab15a7"/>
<circle cx="1403.6" cy="406.3" r="7.3" fill="#ab15a7"/>
<circle cx="1403.6" cy="411.0" r="7.3" fill="#ab15a7"/>
<circle cx="1420.1" cy="346.9" r="7.3" fill="#8046c9"/>
<circle cx="1420.3" cy="351.7" r="7.3" fill="#8046c9"/>
<circle cx="1420.0" cy="356.5" r="7.3" fill="#8046c9"/>
<circle cx="1420.1" cy="361.3" r="7.3" fill="#8046c9"/>
<circle cx="1420.1" cy="366.1" r="7.3" fill="#8046c9"/>
<circle cx="1420.9" cy="370.9" r="7.3" fill="#8046c9"/>
<circle cx="1420.0" cy="375.8" r="7.3" fill="#8046c9"/>
<circle cx="1419.9" cy="380.6" r="7.3" fill="#8046c9"/>
<circle cx="1420.1" cy="385.4" r="7.3" fill="#8046c9"/>
<circle cx="1420.1" cy="390.2" r="7.3" fill="#8046c9"/>
<circle cx="1420.4" cy="395.0" r="7.3" fill="#8046c9"/>
<circle cx="1415.5" cy="380.8" r="7.3" fill="#8046c9"/>
<circle cx="1416.5" cy="385.6" r="7.3" fill="#8046c9"/>
<circle cx="1420.1" cy="399.8" r="7.3" fill="#8046c9"/>
<circle cx="1419.6" cy="404.8" r="7.3" fill="#8046c9"/>
<circle cx="1420.0" cy="409.8" r="7.3" fill="#8046c9"/>
<circle cx="1419.5" cy="414.8" r="7.3" fill="#8046c9"/>
<circle cx="1419.5" cy="419.8" r="7.3" fill="#8046c9"/>
<circle cx="1423.2" cy="401.0" r="7.3" fill="#236cea"/>
<circle cx="1423.0" cy="406.0" r="7.3" fill="#3769e8"/>
<circle cx="1422.5" cy="411.0" r="7.3" fill="#236cea"/>
<circle cx="1421.5" cy="416.0" r="7.3" fill="#4565e5"/>
<circle cx="1420.8" cy="420.0" r="7.3" fill="#4b63e3"/>
<circle cx="1436.3" cy="351.2" r="7.3" fill="#0086fa"/>
<circle cx="1435.4" cy="356.1" r="7.3" fill="#0086fa"/>
<circle cx="1435.7" cy="361.1" r="7.3" fill="#0086fa"/>
<circle cx="1435.6" cy="366.0" r="7.3" fill="#0086fa"/>
<circle cx="1436.3" cy="371.0" r="7.3" fill="#0086fa"/>
<circle cx="1435.4" cy="375.9" r="7.3" fill="#0086fa"/>
<circle cx="1435.2" cy="380.9" r="7.3" fill="#0086fa"/>
<circle cx="1435.9" cy="385.8" r="7.3" fill="#0086fa"/>
<circle cx="1436.3" cy="390.8" r="7.3" fill="#0086fa"/>
<circle cx="1435.4" cy="395.7" r="7.3" fill="#0086fa"/>
<circle cx="1435.2" cy="400.7" r="7.3" fill="#0086fa"/>
<circle cx="1435.8" cy="405.6" r="7.3" fill="#0086fa"/>
<circle cx="1435.3" cy="410.6" r="7.3" fill="#0086fa"/>
<circle cx="1435.9" cy="415.5" r="7.3" fill="#0086fa"/>
<circle cx="1427.5" cy="397.5" r="7.3" fill="#0084f9"/>
<circle cx="1426.8" cy="402.3" r="7.3" fill="#0084f9"/>
<circle cx="1428.2" cy="406.5" r="7.3" fill="#0084f9"/>
<circle cx="1431.0" cy="394.0" r="7.3" fill="#0085f9"/>
<circle cx="1446.5" cy="380.8" r="7.3" fill="#0086fa"/>
<circle cx="1446.8" cy="385.6" r="7.3" fill="#0086fa"/>
<circle cx="1446.3" cy="390.4" r="7.3" fill="#0086fa"/>
<circle cx="1442.0" cy="385.6" r="7.3" fill="#0086fa"/>
<circle cx="1434.4" cy="388.8" r="7.3" fill="#893dc1"/>
<circle cx="1462.4" cy="385.8" r="7.3" fill="#ff0053"/>
<circle cx="1466.0" cy="385.7" r="7.3" fill="#ff0053"/>
<circle cx="1470.0" cy="385.2" r="7.3" fill="#ff0053"/>
<circle cx="1474.0" cy="385.7" r="7.3" fill="#ff0053"/>
<circle cx="1478.0" cy="385.8" r="7.3" fill="#ff0053"/>
<circle cx="1487.0" cy="385.5" r="7.3" fill="#ff0053"/>
<circle cx="1491.0" cy="385.2" r="7.3" fill="#ff0053"/>
<circle cx="1495.0" cy="385.5" r="7.3" fill="#ff0053"/>
<circle cx="1498.6" cy="385.2" r="7.3" fill="#ff0053"/>
<circle cx="1481.4" cy="363.6" r="7.3" fill="#ff0053"/>
<circle cx="1479.9" cy="368.4" r="7.3" fill="#ff0053"/>
<circle cx="1481.0" cy="373.3" r="7.3" fill="#ff0053"/>
<circle cx="1481.3" cy="378.1" r="7.3" fill="#ff0053"/>
<circle cx="1481.1" cy="383.0" r="7.3" fill="#ff0053"/>
<circle cx="1481.1" cy="387.8" r="7.3" fill="#ff0053"/>
<circle cx="1480.5" cy="392.6" r="7.3" fill="#ff0053"/>
<circle cx="1480.4" cy="397.5" r="7.3" fill="#ff0053"/>
<circle cx="1480.8" cy="402.3" r="7.3" fill="#ff0053"/>
<circle cx="1484.0" cy="364.6" r="7.3" fill="#ff0053"/>
<circle cx="1484.0" cy="369.2" r="7.3" fill="#ff0053"/>
<circle cx="1484.7" cy="373.9" r="7.3" fill="#ff0053"/>
<circle cx="1484.7" cy="378.6" r="7.3" fill="#ff0053"/>
<circle cx="1484.6" cy="383.2" r="7.3" fill="#ff0053"/>
<circle cx="1485.2" cy="387.9" r="7.3" fill="#ff0053"/>
<circle cx="1485.0" cy="392.5" r="7.3" fill="#ff0053"/>
<circle cx="1484.1" cy="397.2" r="7.3" fill="#ff0053"/>
<circle cx="1484.8" cy="401.8" r="7.3" fill="#ff0053"/>
<circle cx="1520.4" cy="385.9" r="7.3" fill="#e40082"/>
<circle cx="1523.5" cy="385.4" r="7.3" fill="#e40082"/>
<circle cx="1527.0" cy="385.1" r="7.3" fill="#e40082"/>
<circle cx="1530.5" cy="386.6" r="7.3" fill="#e40082"/>
<circle cx="1534.0" cy="385.9" r="7.3" fill="#e40082"/>
<circle cx="1521.5" cy="382.4" r="7.3" fill="#e40082"/>
<circle cx="1525.0" cy="388.4" r="7.3" fill="#e40082"/>
<circle cx="1529.0" cy="382.6" r="7.3" fill="#e40082"/>
<circle cx="1532.0" cy="388.1" r="7.3" fill="#e40082"/>
<circle cx="1543.6" cy="385.6" r="7.3" fill="#e40082"/>
<circle cx="1541.0" cy="386.6" r="7.3" fill="#e40082"/>
<circle cx="1538.1" cy="355.6" r="7.3" fill="#e40082"/>
<circle cx="1537.6" cy="360.6" r="7.3" fill="#e40082"/>
<circle cx="1538.5" cy="365.6" r="7.3" fill="#e40082"/>
<circle cx="1538.7" cy="370.6" r="7.3" fill="#e40082"/>
<circle cx="1538.1" cy="375.5" r="7.3" fill="#e40082"/>
<circle cx="1537.5" cy="380.5" r="7.3" fill="#e40082"/>
<circle cx="1538.6" cy="385.5" r="7.3" fill="#e40082"/>
<circle cx="1538.6" cy="390.5" r="7.3" fill="#e40082"/>
<circle cx="1538.4" cy="395.5" r="7.3" fill="#e40082"/>
<circle cx="1538.0" cy="400.4" r="7.3" fill="#e40082"/>
<circle cx="1538.1" cy="405.4" r="7.3" fill="#e40082"/>
<circle cx="1538.8" cy="410.4" r="7.3" fill="#e40082"/>
<circle cx="1538.1" cy="415.4" r="7.3" fill="#e40082"/>
</g>
<g>
<circle cx="1410.3" cy="505.2" r="7.3" fill="#f30070"/>
<circle cx="1412.9" cy="505.2" r="7.3" fill="#f30070"/>
<circle cx="1415.5" cy="505.2" r="7.3" fill="#f30070"/>
<circle cx="1418.1" cy="505.4" r="7.3" fill="#f30070"/>
<circle cx="1420.7" cy="505.3" r="7.3" fill="#f30070"/>
<circle cx="1423.3" cy="505.6" r="7.3" fill="#f30070"/>
<circle cx="1425.9" cy="505.2" r="7.3" fill="#f30070"/>
<circle cx="1428.5" cy="505.1" r="7.3" fill="#f30070"/>
<circle cx="1431.1" cy="505.2" r="7.3" fill="#f30070"/>
<circle cx="1433.7" cy="505.6" r="7.3" fill="#f30070"/>
<circle cx="1436.3" cy="505.3" r="7.3" fill="#f30070"/>
<circle cx="1437.5" cy="505.4" r="7.3" fill="#fb0063"/>
<circle cx="1440.0" cy="505.4" r="7.3" fill="#fe005c"/>
<circle cx="1441.7" cy="490.0" r="7.3" fill="#e00086"/>
<circle cx="1441.9" cy="493.0" r="7.3" fill="#e00086"/>
<circle cx="1441.8" cy="496.0" r="7.3" fill="#e00086"/>
<circle cx="1441.3" cy="499.0" r="7.3" fill="#e00086"/>
<circle cx="1441.5" cy="502.0" r="7.3" fill="#e00086"/>
<circle cx="1441.3" cy="505.0" r="7.3" fill="#e00086"/>
<circle cx="1441.3" cy="508.0" r="7.3" fill="#e00086"/>
<circle cx="1441.3" cy="511.0" r="7.3" fill="#e00086"/>
<circle cx="1441.5" cy="514.0" r="7.3" fill="#e00086"/>
<circle cx="1441.8" cy="517.0" r="7.3" fill="#e00086"/>
<circle cx="1441.8" cy="520.0" r="7.3" fill="#e00086"/>
<circle cx="1448.6" cy="546.4" r="7.3" fill="#9332b7"/>
<circle cx="1449.0" cy="464.6" r="7.3" fill="#ab15a7"/>
<circle cx="1448.5" cy="543.8" r="7.3" fill="#9332b7"/>
<circle cx="1448.5" cy="467.2" r="7.3" fill="#ab15a7"/>
<circle cx="1448.9" cy="541.3" r="7.3" fill="#9332b7"/>
<circle cx="1449.0" cy="469.7" r="7.3" fill="#ab15a7"/>
<circle cx="1448.9" cy="538.7" r="7.3" fill="#9332b7"/>
<circle cx="1448.2" cy="472.3" r="7.3" fill="#6a55d7"/>
<circle cx="1449.0" cy="536.2" r="7.3" fill="#754fd1"/>
<circle cx="1449.1" cy="474.8" r="7.3" fill="#6a55d7"/>
<circle cx="1449.1" cy="533.6" r="7.3" fill="#754fd1"/>
<circle cx="1448.5" cy="477.4" r="7.3" fill="#6a55d7"/>
<circle cx="1448.4" cy="531.1" r="7.3" fill="#754fd1"/>
<circle cx="1448.8" cy="479.9" r="7.3" fill="#6a55d7"/>
<circle cx="1449.0" cy="528.5" r="7.3" fill="#754fd1"/>
<circle cx="1448.8" cy="482.5" r="7.3" fill="#6a55d7"/>
<circle cx="1449.2" cy="526.0" r="7.3" fill="#754fd1"/>
<circle cx="1448.3" cy="485.1" r="7.3" fill="#6a55d7"/>
<circle cx="1448.3" cy="523.4" r="7.3" fill="#754fd1"/>
<circle cx="1448.9" cy="487.6" r="7.3" fill="#6a55d7"/>
<circle cx="1448.6" cy="520.8" r="7.3" fill="#754fd1"/>
<circle cx="1448.9" cy="490.2" r="7.3" fill="#b508a2"/>
<circle cx="1448.4" cy="518.3" r="7.3" fill="#bb00a0"/>
<circle cx="1449.1" cy="492.7" r="7.3" fill="#b508a2"/>
<circle cx="1449.1" cy="515.7" r="7.3" fill="#bb00a0"/>
<circle cx="1448.8" cy="495.3" r="7.3" fill="#9b23ad"/>
<circle cx="1448.2" cy="513.2" r="7.3" fill="#bb00a0"/>
<circle cx="1449.1" cy="497.8" r="7.3" fill="#9b23ad"/>
<circle cx="1448.8" cy="510.6" r="7.3" fill="#0084f9"/>
<circle cx="1448.8" cy="500.4" r="7.3" fill="#9b23ad"/>
<circle cx="1448.7" cy="508.1" r="7.3" fill="#0084f9"/>
<circle cx="1448.8" cy="502.9" r="7.3" fill="#0084f9"/>
<circle cx="1448.4" cy="505.5" r="7.3" fill="#0084f9"/>
<circle cx="1444.4" cy="520.3" r="7.3" fill="#ff0053"/>
<circle cx="1444.2" cy="516.8" r="7.3" fill="#ff0053"/>
<circle cx="1444.6" cy="514.0" r="7.3" fill="#ff0053"/>
<circle cx="1446.0" cy="505.4" r="7.3" fill="#0084f9"/>
<circle cx="1449.0" cy="505.7" r="7.3" fill="#0084f9"/>
<circle cx="1452.0" cy="505.7" r="7.3" fill="#0084f9"/>
<circle cx="1455.0" cy="505.5" r="7.3" fill="#0084f9"/>
<circle cx="1458.0" cy="505.2" r="7.3" fill="#0084f9"/>
<circle cx="1461.0" cy="505.1" r="7.3" fill="#0084f9"/>
<circle cx="1464.0" cy="505.3" r="7.3" fill="#0084f9"/>
<circle cx="1467.4" cy="505.3" r="7.3" fill="#0084f9"/>
<circle cx="1463.0" cy="502.8" r="7.3" fill="#0084f9"/>
<circle cx="1445.3" cy="490.5" r="7.3" fill="#007ff7"/>
<circle cx="1448.2" cy="499.8" r="7.3" fill="#9b23ad"/>
<circle cx="1449.0" cy="493.6" r="7.3" fill="#9b23ad"/>
</g>
<line x1="777.7" y1="625.4" x2="1789.4" y2="625.4" stroke="#000" stroke-width="2.7"/>
<line x1="869.0" y1="626.6" x2="869.0" y2="639.2" stroke="#333" stroke-width="2.6"/>
<line x1="1013.3" y1="626.6" x2="1013.3" y2="639.2" stroke="#333" stroke-width="2.6"/>
<line x1="1157.7" y1="626.6" x2="1157.7" y2="639.2" stroke="#333" stroke-width="2.6"/>
<line x1="1302.0" y1="626.6" x2="1302.0" y2="639.2" stroke="#333" stroke-width="2.6"/>
<line x1="1446.3" y1="626.6" x2="1446.3" y2="639.2" stroke="#333" stroke-width="2.6"/>
<line x1="1590.7" y1="626.6" x2="1590.7" y2="639.2" stroke="#333" stroke-width="2.6"/>
<line x1="1735.0" y1="626.6" x2="1735.0" y2="639.2" stroke="#333" stroke-width="2.6"/>
<g font-family="'DejaVu Sans','Liberation Sans',sans-serif" font-size="40.5" fill="#333" text-anchor="middle">
<text transform="translate(869.5 681.2) scale(1 0.978)">−200</text>
<text transform="translate(1013.8 681.2) scale(1 0.978)">−150</text>
<text transform="translate(1158.2 681.2) scale(1 0.978)">−100</text>
<text transform="translate(1302.5 681.2) scale(1 0.978)">−50</text>
<text transform="translate(1446.3 681.2) scale(1 0.978)">0</text>
<text transform="translate(1590.7 681.2) scale(1 0.978)">50</text>
<text transform="translate(1734.2 681.2) scale(1 0.978)">100</text>
</g>
<g font-family="'DejaVu Sans','Liberation Sans',sans-serif" font-size="47.9" fill="#333" text-anchor="end">
<text transform="translate(691.8 163.8) scale(0.996 0.975)" font-size="48.0">Exposure time (min)</text>
<text transform="translate(691.9 283.6) scale(0.995 0.975)" font-size="48.05">Retention Time (Days)</text>
<text transform="translate(691.9 403.4) scale(0.998 0.975)" font-size="47.9">NaOH concentration (% w/w)</text>
<text transform="translate(692.1 523.2) scale(0.998 0.975)" font-size="47.6">Temp. Deg. C</text>
</g>
<text transform="translate(1282.9 741.6) scale(0.9985 0.98)" font-family="'DejaVu Sans','Liberation Sans',sans-serif" font-size="47.85" fill="#000" text-anchor="middle">SHAP value (impact on model output)</text>
<rect x="1850.9" y="26.6" width="7.4" height="597.5" fill="url(#cb)"/>
<g font-family="'DejaVu Sans','Liberation Sans',sans-serif" font-size="40.5" fill="#000">
<text transform="translate(1870.6 41.7) scale(1 0.978)">High</text>
<text transform="translate(1870.9 640.2) scale(1 0.978)">Low</text>
</g>
<text transform="translate(1997.4 325.3) rotate(-90)" font-family="'DejaVu Sans','Liberation Sans',sans-serif" font-size="44.2" fill="#000" text-anchor="middle">Feature value</text>
</svg>
</body></html>
